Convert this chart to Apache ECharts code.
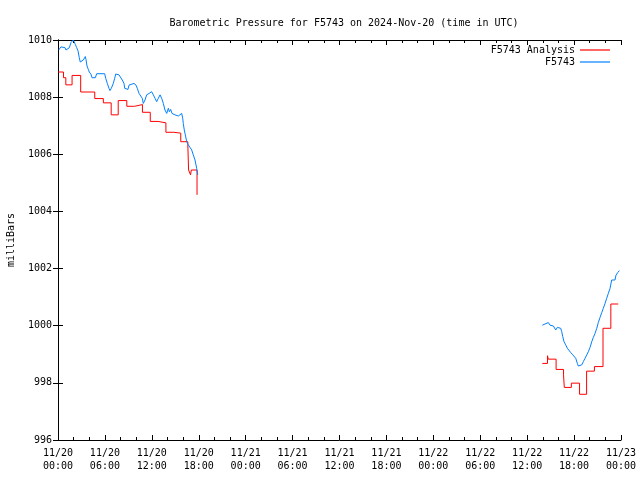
<!DOCTYPE html>
<html>
<head>
<meta charset="utf-8">
<script src="https://cdn.jsdelivr.net/npm/echarts@6/dist/echarts.min.js"></script>
<style>html,body{margin:0;padding:0;background:#fff}#c{width:640px;height:480px}</style>
</head>
<body>
<div id="c"></div>
<script>
// Hours since 2024-11-20 00:00 UTC
var dateLabels = ['11/20','11/20','11/20','11/20','11/21','11/21','11/21','11/21','11/22','11/22','11/22','11/22','11/23'];
var timeLabels = ['00:00','06:00','12:00','18:00','00:00','06:00','12:00','18:00','00:00','06:00','12:00','18:00','00:00'];

// F5743 Analysis (step values; null marks the data gap)
var analysisHours = [0.0, 0.7, 1.0, 1.8, 2.9, 4.7, 5.8, 6.8, 7.7, 8.8, 9.8, 10.8, 11.8, 12.8, 13.8, 14.8, 15.7, 16.6, 16.7, 16.95, 17.05, 17.78,
  40,
  61.94, 62.6, 62.7, 63.7, 64.65, 64.75, 65.65, 66.7, 67.6, 68.6, 69.7, 70.7, 71.65];
var analysisValues = [1008.88, 1008.68, 1008.43, 1008.76, 1008.18, 1007.95, 1007.80, 1007.38, 1007.88, 1007.68, 1007.74, 1007.47, 1007.15, 1007.10, 1006.77, 1006.74, 1006.44, 1006.35, 1005.45, 1005.28, 1005.45, 1004.58,
  null,
  998.68, 998.95, 998.83, 998.47, 998.28, 997.84, 997.99, 997.60, 998.41, 998.57, 999.91, 1000.76, 1000.76];

// F5743 observations
var stationHours = [0.09, 0.38, 0.6, 0.9, 1.02, 1.45, 1.66, 1.96, 2.08, 2.21, 2.39, 2.56, 2.72, 2.85, 3.03, 3.24, 3.49, 3.58, 3.71, 3.88, 4.0, 4.22, 4.35, 4.56, 4.77, 4.95, 5.24, 5.97, 6.1, 6.31, 6.52, 6.65, 6.82, 7.07, 7.25, 7.38, 7.8, 8.02, 8.22, 8.44, 8.53, 8.95, 9.08, 9.3, 9.72, 9.85, 9.98, 10.14, 10.36, 10.58, 10.78, 10.91, 11.0, 11.13, 11.34, 11.64, 11.86, 11.98, 12.19, 12.41, 12.62, 12.83, 13.05, 13.26, 13.47, 13.68, 13.9, 14.11, 14.24, 14.41, 14.58, 14.75, 14.96, 15.18, 15.39, 15.6, 15.82, 15.95, 16.02, 16.15, 16.28, 16.46, 16.66, 16.88, 17.1, 17.3, 17.52, 17.74, 17.87,
  40,
  61.94, 62.07, 62.28, 62.5, 62.71, 62.8, 62.92, 63.14, 63.35, 63.56, 63.65, 63.86, 64.07, 64.29, 64.42, 64.55, 64.71, 64.93, 65.14, 65.35, 65.57, 65.83, 66.03, 66.21, 66.42, 66.54, 66.76, 66.98, 67.18, 67.4, 67.62, 67.82, 68.04, 68.26, 68.46, 68.68, 68.9, 69.1, 69.32, 69.54, 69.74, 69.96, 70.17, 70.38, 70.6, 70.81, 71.23, 71.36, 71.58, 71.79];
var stationValues = [1009.65, 1009.76, 1009.70, 1009.73, 1009.65, 1009.73, 1009.91, 1010.0, 1009.97, 1009.85, 1009.73, 1009.62, 1009.38, 1009.23, 1009.21, 1009.30, 1009.42, 1009.32, 1009.09, 1008.97, 1008.88, 1008.80, 1008.68, 1008.74, 1008.68, 1008.82, 1008.82, 1008.82, 1008.66, 1008.48, 1008.31, 1008.23, 1008.31, 1008.48, 1008.66, 1008.81, 1008.78, 1008.74, 1008.60, 1008.48, 1008.31, 1008.27, 1008.42, 1008.46, 1008.48, 1008.51, 1008.42, 1008.31, 1008.13, 1008.08, 1007.96, 1007.78, 1007.73, 1007.90, 1008.08, 1008.13, 1008.16, 1008.19, 1008.08, 1007.96, 1007.84, 1007.96, 1008.08, 1007.96, 1007.78, 1007.55, 1007.43, 1007.61, 1007.49, 1007.57, 1007.43, 1007.49, 1007.38, 1007.43, 1007.34, 1007.38, 1007.43, 1007.26, 1007.08, 1006.85, 1006.68, 1006.44, 1006.33, 1006.27, 1006.15, 1005.98, 1005.80, 1005.51, 1005.28,
  null,
  1000.02, 1000.08, 1000.06, 1000.02, 1000.11, 1000.18, 1000.02, 1000.02, 999.99, 1000.0, 999.85, 999.94, 999.97, 999.91, 999.79, 999.62, 999.44, 999.33, 999.21, 999.15, 999.06, 998.98, 998.92, 998.86, 998.68, 998.59, 998.56, 998.63, 998.74, 998.86, 998.98, 999.09, 999.24, 999.44, 999.59, 999.73, 999.91, 1000.11, 1000.29, 1000.46, 1000.61, 1000.78, 1000.96, 1001.13, 1001.31, 1001.6, 1001.6, 1001.77, 1001.86, 1001.93];

// split into contiguous segments at null values
function segments(xs, ys) {
  var out = [], cur = [];
  xs.forEach(function (x, i) {
    if (ys[i] === null) { if (cur.length) out.push(cur); cur = []; }
    else cur.push([x, ys[i]]);
  });
  if (cur.length) out.push(cur);
  return out;
}

var FONT = 'DejaVu Sans Mono';
var RED = '#ff0000', BLUE = '#0080ff';
var chart = echarts.init(document.getElementById('c'), null, {renderer: 'canvas'});
var axisLineStyle = {show: true, lineStyle: {color: '#000', width: 1}};
var xCommon = {
  type: 'value', min: 0, max: 72, interval: 6,
  axisLine: axisLineStyle,
  axisTick: {show: true, inside: true, length: 5, lineStyle: {color: '#000'}},
  minorTick: {show: true, splitNumber: 3, length: 3, lineStyle: {color: '#000'}},
  splitLine: {show: false}
};
var yCommon = {
  type: 'value', min: 996, max: 1010, interval: 2,
  axisLine: axisLineStyle,
  axisTick: {show: true, inside: true, length: 5, lineStyle: {color: '#000'}},
  splitLine: {show: false}
};

var series = [];
segments(analysisHours, analysisValues).forEach(function (seg) {
  series.push({
    name: 'F5743 Analysis', type: 'line', step: 'end', symbol: 'none', data: seg,
    lineStyle: {color: RED, width: 1}, itemStyle: {color: RED}
  });
});
segments(stationHours, stationValues).forEach(function (seg) {
  series.push({
    name: 'F5743', type: 'line', symbol: 'none', data: seg,
    lineStyle: {color: BLUE, width: 1}, itemStyle: {color: BLUE}
  });
});

chart.setOption({
  animation: false,
  backgroundColor: '#fff',
  title: {
    text: 'Barometric Pressure for F5743 on 2024-Nov-20 (time in UTC)',
    left: 339, top: 13, textAlign: 'center',
    textStyle: {fontFamily: FONT, fontSize: 10, fontWeight: 'normal', color: '#000'}
  },
  legend: {
    data: ['F5743 Analysis', 'F5743'],
    orient: 'vertical', right: 30, top: 45, align: 'right', padding: 0,
    icon: 'rect', itemWidth: 30, itemHeight: 1.2, itemGap: 2,
    textStyle: {fontFamily: FONT, fontSize: 10, color: '#000'}
  },
  grid: {left: 58, right: 19, top: 40, bottom: 40, containLabel: false, outerBoundsMode: 'none'},
  xAxis: [
    Object.assign({}, xCommon, {
      position: 'bottom',
      axisLabel: {
        margin: 7, fontFamily: FONT, fontSize: 10, color: '#000', lineHeight: 13,
        formatter: function (v) { var i = Math.round(v / 6); return dateLabels[i] + '\n' + timeLabels[i]; }
      }
    }),
    Object.assign({}, xCommon, {position: 'top', axisLabel: {show: false}})
  ],
  yAxis: [
    Object.assign({}, yCommon, {
      position: 'left',
      name: 'milliBars', nameLocation: 'middle', nameRotate: 90, nameGap: 42,
      nameTextStyle: {fontFamily: FONT, fontSize: 10, color: '#000'},
      axisLabel: {margin: 6, fontFamily: FONT, fontSize: 10, color: '#000', formatter: function (v) { return String(v); }}
    }),
    Object.assign({}, yCommon, {position: 'right', axisLabel: {show: false}})
  ],
  series: series
});
</script>
</body>
</html>
